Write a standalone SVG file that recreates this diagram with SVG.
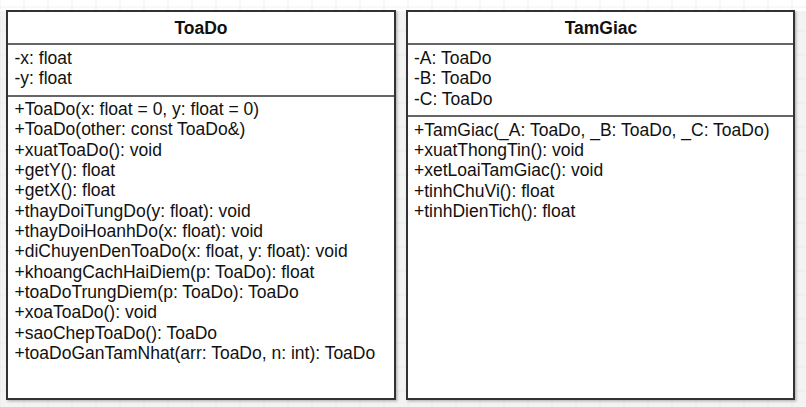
<svg xmlns="http://www.w3.org/2000/svg" width="806" height="407" viewBox="0 0 806 407">
  <defs>
    <pattern id="grid" x="-0.5" y="6.5" width="24" height="24" patternUnits="userSpaceOnUse">
      <path d="M0 0H24M0 0V24" fill="none" stroke="#e4e4e4" stroke-width="1"/>
    </pattern>
    <filter id="shadow" x="-5%" y="-5%" width="110%" height="110%">
      <feDropShadow dx="1.5" dy="1.5" stdDeviation="0.8" flood-color="#000" flood-opacity="0.25"/>
    </filter>
  </defs>
  <style>
    .box { fill: #ffffff; stroke: #333333; stroke-width: 2; }
    .sep { stroke: #333333; stroke-width: 1.5; }
    .title { font-family: "Liberation Sans", Arial, sans-serif; font-size: 17.5px; font-weight: bold; fill: #111111; text-anchor: middle; }
    .row { font-family: "Liberation Sans", Arial, sans-serif; font-size: 17.5px; fill: #111111; }
  </style>

  <!-- canvas -->
  <rect x="0" y="0" width="806" height="407" fill="#ffffff"/>
  <rect x="0" y="11" width="806" height="396" fill="#f3f3f3"/>
  <rect x="0" y="0" width="806" height="407" fill="url(#grid)"/>

  <!-- class ToaDo -->
  <g id="ToaDo">
    <rect class="box" x="7" y="11" width="388" height="388" filter="url(#shadow)"/>
    <line class="sep" x1="7" y1="44" x2="395" y2="44"/>
    <line class="sep" x1="7" y1="96" x2="395" y2="96"/>
    <text class="title" x="201" y="33.5">ToaDo</text>
    <text class="row" x="14.5" y="64">-x: float</text>
    <text class="row" x="14.5" y="84">-y: float</text>
    <text class="row" x="14.5" y="115">+ToaDo(x: float = 0, y: float = 0)</text>
    <text class="row" x="14.5" y="135.3">+ToaDo(other: const ToaDo&amp;)</text>
    <text class="row" x="14.5" y="155.7">+xuatToaDo(): void</text>
    <text class="row" x="14.5" y="176">+getY(): float</text>
    <text class="row" x="14.5" y="196.3">+getX(): float</text>
    <text class="row" x="14.5" y="216.7">+thayDoiTungDo(y: float): void</text>
    <text class="row" x="14.5" y="237">+thayDoiHoanhDo(x: float): void</text>
    <text class="row" x="14.5" y="257.3">+diChuyenDenToaDo(x: float, y: float): void</text>
    <text class="row" x="14.5" y="277.7">+khoangCachHaiDiem(p: ToaDo): float</text>
    <text class="row" x="14.5" y="298">+toaDoTrungDiem(p: ToaDo): ToaDo</text>
    <text class="row" x="14.5" y="318.3">+xoaToaDo(): void</text>
    <text class="row" x="14.5" y="338.7">+saoChepToaDo(): ToaDo</text>
    <text class="row" x="14.5" y="359">+toaDoGanTamNhat(arr: ToaDo, n: int): ToaDo</text>
  </g>

  <!-- class TamGiac -->
  <g id="TamGiac">
    <rect class="box" x="407" y="11" width="387" height="388" filter="url(#shadow)"/>
    <line class="sep" x1="407" y1="44" x2="794" y2="44"/>
    <line class="sep" x1="407" y1="116" x2="794" y2="116"/>
    <text class="title" x="601" y="33.5">TamGiac</text>
    <text class="row" x="414" y="64">-A: ToaDo</text>
    <text class="row" x="414" y="84.3">-B: ToaDo</text>
    <text class="row" x="414" y="104.7">-C: ToaDo</text>
    <text class="row" x="414" y="135.5">+TamGiac(_A: ToaDo, _B: ToaDo, _C: ToaDo)</text>
    <text class="row" x="414" y="155.8">+xuatThongTin(): void</text>
    <text class="row" x="414" y="176.2">+xetLoaiTamGiac(): void</text>
    <text class="row" x="414" y="196.5">+tinhChuVi(): float</text>
    <text class="row" x="414" y="216.8">+tinhDienTich(): float</text>
  </g>

  <!-- no associations are drawn between the two classes -->
  <g id="connectors"></g>
</svg>
